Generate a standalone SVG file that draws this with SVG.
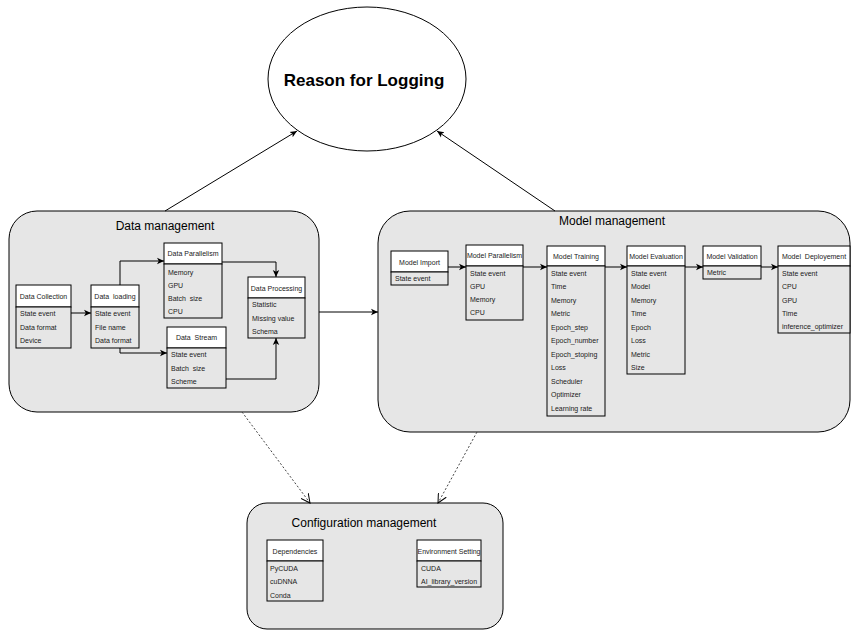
<svg xmlns="http://www.w3.org/2000/svg" width="851" height="632" viewBox="0 0 851 632">
<style>
text{font-family:"Liberation Sans",Arial,sans-serif;fill:#1a1a1a;white-space:pre}
.cont{fill:#e6e6e6;stroke:#000;stroke-width:1}
.hd{fill:#fff;stroke:#000;stroke-width:1}
.bd{fill:#e6e6e6;stroke:#000;stroke-width:1}
.ht{font-size:7px;text-anchor:middle}
.rt{font-size:7px}
.title{font-size:12px;text-anchor:middle;fill:#000}
.ln{fill:none;stroke:#000;stroke-width:1}
.dot{fill:none;stroke:#444;stroke-width:1;stroke-dasharray:2 2}
</style>
<defs>
<marker id="ah" markerWidth="8" markerHeight="8" refX="7" refY="4" orient="auto" markerUnits="userSpaceOnUse">
<path d="M0,0.8 L7,4 L0,7.2 L1.8,4 Z" fill="#000"/>
</marker>
<marker id="oa" markerWidth="10" markerHeight="10" refX="9" refY="5" orient="auto" markerUnits="userSpaceOnUse">
<path d="M0,0.5 L9,5 L0,9.5" fill="none" stroke="#000" stroke-width="1"/>
</marker>
</defs>
<rect width="851" height="632" fill="#fff"/>

<g id="reason">
<ellipse cx="367" cy="79" rx="99" ry="72" fill="#fff" stroke="#000" stroke-width="1"/>
<text x="364" y="86" style="font-size:17px;font-weight:bold;text-anchor:middle;fill:#000">Reason for Logging</text>
</g>

<g id="data-management">
<rect class="cont" x="9" y="211" width="310" height="201" rx="28" ry="28"/>
<text class="title" x="165" y="230">Data management</text>
</g>

<g id="model-management">
<rect class="cont" x="378" y="211" width="472" height="221" rx="32" ry="32"/>
<text class="title" x="612" y="225">Model management</text>
</g>

<g id="configuration-management">
<rect class="cont" x="247" y="503" width="256" height="126" rx="20" ry="20"/>
<text class="title" x="364" y="527">Configuration management</text>
</g>

<g id="data-collection">
<rect class="hd" x="16" y="285" width="55" height="22"/>
<rect class="bd" x="16" y="307" width="55" height="41"/>
<text class="ht" x="43.5" y="298.5">Data Collection</text>
<text class="rt" x="20" y="315.5">State event</text>
<text class="rt" x="20" y="329.5">Data format</text>
<text class="rt" x="20" y="342.5">Device</text>
</g>

<g id="data-loading">
<rect class="hd" x="91" y="285" width="48" height="22"/>
<rect class="bd" x="91" y="307" width="48" height="41"/>
<text class="ht" x="115" y="298.5">Data  loading</text>
<text class="rt" x="95" y="315.5">State event</text>
<text class="rt" x="95" y="329.5">File name</text>
<text class="rt" x="95" y="342.5">Data format</text>
</g>

<g id="data-parallelism">
<rect class="hd" x="164" y="243" width="58" height="21"/>
<rect class="bd" x="164" y="264" width="58" height="54"/>
<text class="ht" x="193" y="256">Data Parallelism</text>
<text class="rt" x="168" y="274.5">Memory</text>
<text class="rt" x="168" y="287.5">GPU</text>
<text class="rt" x="168" y="300.5">Batch  size</text>
<text class="rt" x="168" y="314">CPU</text>
</g>

<g id="data-stream">
<rect class="hd" x="167" y="327" width="59" height="21"/>
<rect class="bd" x="167" y="348" width="59" height="40"/>
<text class="ht" x="196.5" y="340">Data  Stream</text>
<text class="rt" x="171" y="356.5">State event</text>
<text class="rt" x="171" y="370.5">Batch  size</text>
<text class="rt" x="171" y="383.5">Scheme</text>
</g>

<g id="data-processing">
<rect class="hd" x="248" y="277" width="57" height="21"/>
<rect class="bd" x="248" y="298" width="57" height="40"/>
<text class="ht" x="276.5" y="290.5">Data Processing</text>
<text class="rt" x="252" y="306.5">Statistic</text>
<text class="rt" x="252" y="320.5">Missing value</text>
<text class="rt" x="252" y="334">Schema</text>
</g>

<g id="model-import">
<rect class="hd" x="391" y="251" width="57" height="21"/>
<rect class="bd" x="391" y="272" width="57" height="13"/>
<text class="ht" x="419.5" y="264.5">Model Import</text>
<text class="rt" x="395" y="280.5">State event</text>
</g>

<g id="model-parallelism">
<rect class="hd" x="466" y="245" width="57" height="21"/>
<rect class="bd" x="466" y="266" width="57" height="54"/>
<text class="ht" x="494.5" y="258">Model Parallelism</text>
<text class="rt" x="470" y="275.5">State event</text>
<text class="rt" x="470" y="288.5">GPU</text>
<text class="rt" x="470" y="301.5">Memory</text>
<text class="rt" x="470" y="315">CPU</text>
</g>

<g id="model-training">
<rect class="hd" x="547" y="246" width="58" height="20"/>
<rect class="bd" x="547" y="266" width="58" height="150"/>
<text class="ht" x="576" y="258.5">Model Training</text>
<text class="rt" x="551" y="275.5">State event</text>
<text class="rt" x="551" y="289">Time</text>
<text class="rt" x="551" y="302.5">Memory</text>
<text class="rt" x="551" y="316">Metric</text>
<text class="rt" x="551" y="329.5">Epoch_step</text>
<text class="rt" x="551" y="343">Epoch_number</text>
<text class="rt" x="551" y="356.5">Epoch_stoping</text>
<text class="rt" x="551" y="370">Loss</text>
<text class="rt" x="551" y="383.5">Scheduler</text>
<text class="rt" x="551" y="397">Optimizer</text>
<text class="rt" x="551" y="410.5">Learning rate</text>
</g>

<g id="model-evaluation">
<rect class="hd" x="627" y="246" width="58" height="20"/>
<rect class="bd" x="627" y="266" width="58" height="108"/>
<text class="ht" x="656" y="258.5">Model Evaluation</text>
<text class="rt" x="631" y="275.5">State event</text>
<text class="rt" x="631" y="289">Model</text>
<text class="rt" x="631" y="302.5">Memory</text>
<text class="rt" x="631" y="316">Time</text>
<text class="rt" x="631" y="329.5">Epoch</text>
<text class="rt" x="631" y="343">Loss</text>
<text class="rt" x="631" y="356.5">Metric</text>
<text class="rt" x="631" y="370">Size</text>
</g>

<g id="model-validation">
<rect class="hd" x="703" y="246" width="58" height="20"/>
<rect class="bd" x="703" y="266" width="58" height="13"/>
<text class="ht" x="732" y="258.5">Model Validation</text>
<text class="rt" x="707" y="275">Metric</text>
</g>

<g id="model-deployement">
<rect class="hd" x="778" y="246" width="72" height="20"/>
<rect class="bd" x="778" y="266" width="72" height="67"/>
<text class="ht" x="814" y="258.5">Model  Deployement</text>
<text class="rt" x="782" y="275.5">State event</text>
<text class="rt" x="782" y="289">CPU</text>
<text class="rt" x="782" y="302.5">GPU</text>
<text class="rt" x="782" y="316">Time</text>
<text class="rt" x="782" y="329">inference_optimizer</text>
</g>

<g id="dependencies">
<rect class="hd" x="267" y="540" width="56" height="21"/>
<rect class="bd" x="267" y="561" width="56" height="40"/>
<text class="ht" x="295" y="553.5">Dependencies</text>
<text class="rt" x="270" y="570.5">PyCUDA</text>
<text class="rt" x="270" y="584">cuDNNA</text>
<text class="rt" x="270" y="597.5">Conda</text>
</g>

<g id="environment-setting">
<rect class="hd" x="417" y="540" width="64" height="21"/>
<rect class="bd" x="417" y="561" width="64" height="26"/>
<text class="ht" x="449" y="553.5">Environment Setting</text>
<text class="rt" x="421" y="570.5">CUDA</text>
<text class="rt" x="421" y="584">AI_library_version</text>
</g>

<g id="connectors">
<line class="ln" x1="165" y1="211" x2="297" y2="131" marker-end="url(#ah)"/>
<line class="ln" x1="555" y1="211" x2="437" y2="131" marker-end="url(#ah)"/>
<line class="ln" x1="319" y1="312" x2="378" y2="312" marker-end="url(#ah)"/>
<line class="dot" x1="242" y1="412" x2="310" y2="503" marker-end="url(#oa)"/>
<line class="dot" x1="477" y1="432" x2="438" y2="503" marker-end="url(#oa)"/>
<line class="ln" x1="71" y1="313" x2="91" y2="313" marker-end="url(#ah)"/>
<polyline class="ln" points="120,285 120,261 164,261" marker-end="url(#ah)"/>
<polyline class="ln" points="120,348 120,353 167,353" marker-end="url(#ah)"/>
<polyline class="ln" points="222,262 276,262 276,277" marker-end="url(#ah)"/>
<polyline class="ln" points="226,379 276,379 276,338" marker-end="url(#ah)"/>
<line class="ln" x1="448" y1="267" x2="466" y2="267" marker-end="url(#ah)"/>
<line class="ln" x1="523" y1="267" x2="547" y2="267" marker-end="url(#ah)"/>
<line class="ln" x1="605" y1="267" x2="627" y2="267" marker-end="url(#ah)"/>
<line class="ln" x1="685" y1="267" x2="703" y2="267" marker-end="url(#ah)"/>
<line class="ln" x1="761" y1="267" x2="778" y2="267" marker-end="url(#ah)"/>
</g>
</svg>
